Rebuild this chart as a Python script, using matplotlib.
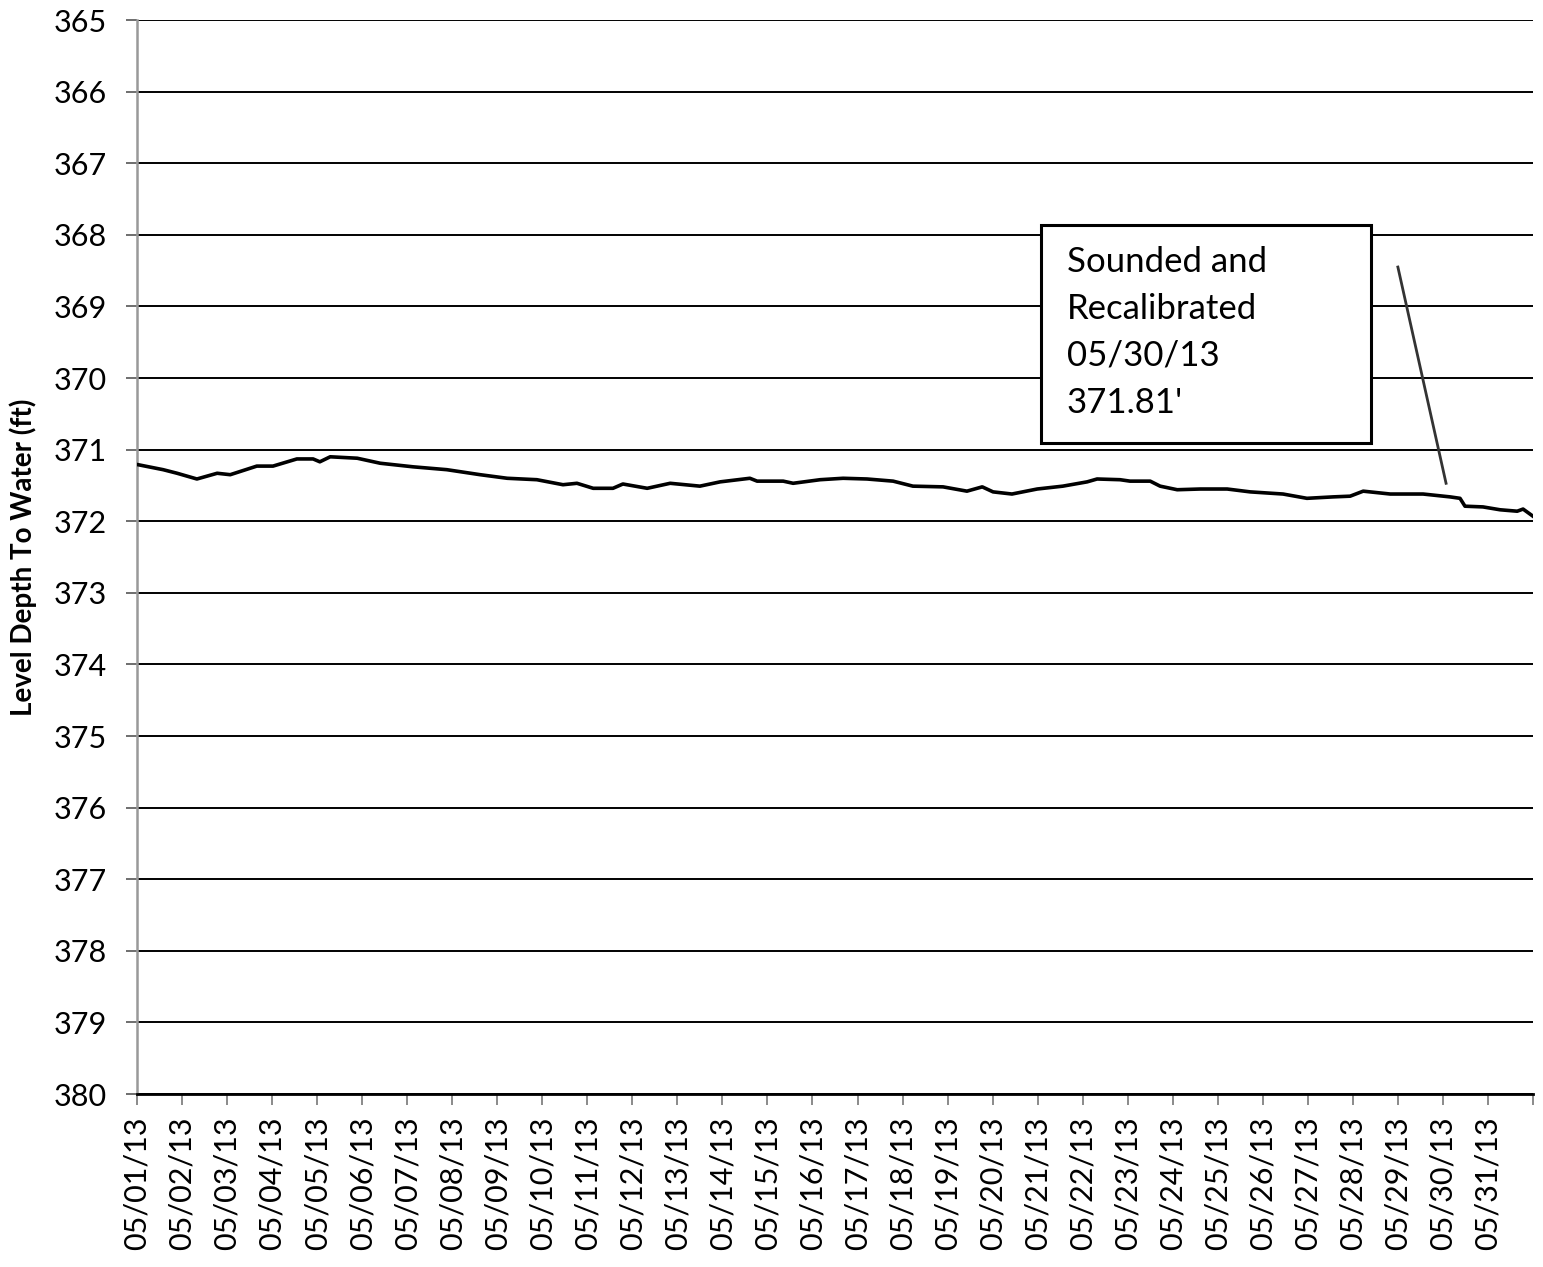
import matplotlib.pyplot as plt
from matplotlib.patches import Rectangle

# water level readings, days since 05/01/13 00:00 vs depth to water (ft)
days = [0.02, 0.58, 0.89, 1.33, 1.78, 2.07, 2.66, 3.02, 3.55, 3.91, 4.06, 4.29,
        4.89, 5.40, 6.13, 6.88, 7.62, 8.22, 8.88, 9.46, 9.77, 10.13, 10.57, 10.79,
        11.33, 11.84, 12.50, 12.95, 13.61, 13.77, 14.35, 14.57, 15.17, 15.68, 16.21,
        16.79, 17.23, 17.90, 18.43, 18.77, 19.01, 19.43, 19.99, 20.56, 21.10, 21.32,
        21.83, 22.05, 22.50, 22.72, 23.10, 23.61, 24.21, 24.72, 25.45, 25.98, 26.56,
        26.94, 27.23, 27.38, 27.83, 28.56, 29.16, 29.38, 29.49, 29.89, 30.27, 30.65,
        30.78, 31.00]
depth = [371.21, 371.28, 371.33, 371.41, 371.33, 371.35, 371.23, 371.23, 371.13,
         371.13, 371.17, 371.10, 371.12, 371.19, 371.24, 371.28, 371.35, 371.40,
         371.42, 371.49, 371.47, 371.54, 371.54, 371.48, 371.54, 371.47, 371.51,
         371.45, 371.40, 371.44, 371.44, 371.47, 371.42, 371.40, 371.41, 371.44,
         371.51, 371.52, 371.58, 371.52, 371.59, 371.62, 371.55, 371.51, 371.45,
         371.41, 371.42, 371.44, 371.44, 371.51, 371.56, 371.55, 371.55, 371.59,
         371.62, 371.68, 371.66, 371.65, 371.58, 371.59, 371.62, 371.62, 371.66,
         371.68, 371.79, 371.80, 371.84, 371.86, 371.83, 371.93]

date_labels = ["05/%02d/13" % d for d in range(1, 32)]
y_ticks = list(range(365, 381))

note_text = "Sounded and\nRecalibrated\n05/30/13\n371.81'"

plt.rcParams['font.family'] = ['Lato', 'DejaVu Sans']

fig = plt.figure(figsize=(15.43, 12.67), dpi=100)
ax = fig.add_axes([0.0888, 0.1365, 0.9047, 0.8477])

ax.plot(days, depth, color='black', lw=2.6, zorder=3)

ax.set_xlim(0, 31)
ax.set_ylim(380, 365)
ax.set_yticks(y_ticks)
ax.set_yticklabels([str(v) for v in y_ticks], fontsize=22)
ax.set_xticks(list(range(0, 32)))
ax.set_xticklabels(date_labels + [""], rotation=90, fontsize=22)
ax.tick_params(axis='y', length=8, width=1.2, color='#555555', pad=14)
ax.tick_params(axis='x', length=8, width=1.2, color='#777777', pad=8)

# horizontal grid
for v in y_ticks:
    ax.axhline(v, color='black', lw=1.4, zorder=1)

ax.spines['top'].set_visible(False)
ax.spines['right'].set_visible(False)
ax.spines['left'].set_color('#999999')
ax.spines['left'].set_linewidth(1.8)
ax.spines['bottom'].set_color('black')
ax.spines['bottom'].set_linewidth(2)

ax.set_ylabel("Level Depth To Water (ft)", fontsize=20, fontweight='bold', labelpad=12)

# annotation callout
ax.add_patch(Rectangle((20.08, 367.86), 7.32, 3.05, facecolor='white',
                       edgecolor='black', lw=2.2, zorder=4))
ax.text(20.65, 368.15, note_text, fontsize=25, va='top', ha='left',
        linespacing=1.58, zorder=5)
ax.plot([28.0, 29.07], [368.45, 371.47], color='#333333', lw=2, zorder=4)

fig.savefig("out.png", dpi=100)
